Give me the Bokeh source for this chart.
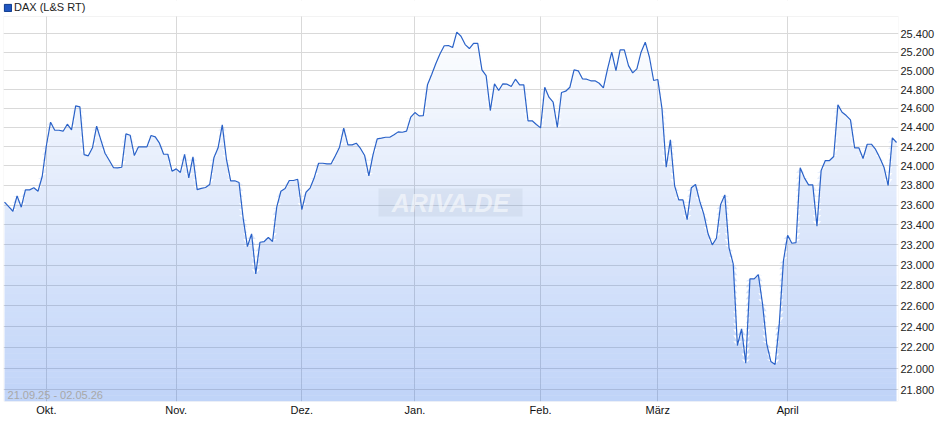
import numpy as np
from bokeh.plotting import figure
from bokeh.models import Range1d, FixedTicker, Label, BoxAnnotation, Legend, LegendItem
from bokeh.embed import file_html
from bokeh.resources import INLINE

# ---- data (daily closes, L&S, 21.09.25 - 02.05.26) ----
series_name = "DAX (L&S RT)"
period_text = "21.09.25 - 02.05.26"
dax = [
    23629, 23583, 23537, 23693, 23578, 23754, 23754, 23775, 23740, 23891,
    24211, 24454, 24370, 24370, 24360, 24433, 24374, 24627, 24616, 24117,
    24104, 24187, 24412, 24270, 24131, 24058, 23983, 23980, 23986, 24332,
    24318, 24107, 24197, 24197, 24197, 24315, 24301, 24235, 24120, 24120,
    23945, 23969, 23932, 24120, 23877, 24093, 23757, 23770, 23778, 23809,
    24083, 24187, 24427, 24066, 23847, 23847, 23829, 23463, 23183, 23310,
    22913, 23226, 23233, 23273, 23233, 23578, 23740, 23768, 23850, 23850,
    23863, 23554, 23730, 23775, 23884, 24027, 24027, 24021, 24021, 24104,
    24193, 24391, 24218, 24218, 24235, 24180, 24107, 23898, 24117, 24280,
    24287, 24297, 24297, 24322, 24353, 24349, 24360, 24507, 24556, 24521,
    24524, 24850, 24960, 25078, 25183, 25270, 25273, 25251, 25418, 25374,
    25283, 25240, 25297, 25297, 25010, 24949, 24577, 24861, 24789, 24861,
    24857, 24832, 24910, 24850, 24850, 24469, 24469, 24430, 24395, 24824,
    24718, 24665, 24399, 24768, 24782, 24824, 25010, 25000, 24914, 24910,
    24893, 24893, 24867, 24818, 25021, 25201, 25003, 25226, 25226, 25056,
    24978, 25021, 25201, 25309, 25146, 24896, 24907, 24595, 23986, 24270,
    23798, 23653, 23653, 23453, 23775, 23809, 23639, 23504, 23310, 23200,
    23266, 23605, 23703, 23170, 23011, 22219, 22378, 22050, 22864, 22864,
    22906, 22620, 22235, 22066, 22038, 22426, 23044, 23296, 23216, 23223,
    23980, 23877, 23805, 23805, 23386, 23952, 24055, 24055, 24097, 24637,
    24559, 24524, 24479, 24187, 24187, 24076, 24224, 24224, 24170, 24083,
    23986, 23798, 24291, 24242,
]
month_labels = ["Okt.", "Nov.", "Dez.", "Jan.", "Feb.", "März", "April"]
month_index = [10, 41, 71, 98, 128, 156, 187]   # trading-day index of month start
y_ticks = list(range(21800, 25401, 200))
y_labels = [f"{v // 1000}.{v % 1000:03d}" for v in y_ticks]

# ---- layout constants ----
Y_LO, Y_CHART_TOP, Y_HI = 21691, 25589, 25766   # Y_HI leaves a header strip for the key
X_LO, X_HI = -0.24, 213.47
FONT = "Liberation Sans"
LINE_COLOR = "#2a62c8"
FILL_RGB = (30, 100, 230)
FILL_MAX_ALPHA = 0.28
BORDER = "#d4d4d4"

x = np.arange(len(dax))
ys = np.array(dax, dtype=float)

p = figure(
    width=940, height=420,
    x_range=Range1d(X_LO, X_HI), y_range=Range1d(Y_LO, Y_HI),
    y_axis_type="log", y_axis_location="right",
    output_backend="svg", toolbar_location=None,
    min_border_left=3, min_border_right=42, min_border_top=0, min_border_bottom=19,
    background_fill_color="white", border_fill_color="white",
    outline_line_color=None,
)

# axes
p.xaxis.ticker = FixedTicker(ticks=month_index)
p.xaxis.major_label_overrides = {i: s for i, s in zip(month_index, month_labels)}
p.xaxis.axis_line_color = None
p.xaxis.major_tick_line_color = None
p.xaxis.minor_tick_line_color = None
p.xaxis.major_tick_out = 0
p.xaxis.major_tick_in = 0
p.xaxis.minor_tick_out = 0
p.xaxis.major_label_standoff = 2
p.xaxis.major_label_text_font = FONT
p.xaxis.major_label_text_font_size = "11px"
p.xaxis.major_label_text_color = "#111111"

p.yaxis.ticker = FixedTicker(ticks=y_ticks)
p.yaxis.major_label_overrides = {v: s for v, s in zip(y_ticks, y_labels)}
p.yaxis.axis_line_color = None
p.yaxis.major_tick_line_color = None
p.yaxis.minor_tick_line_color = None
p.yaxis.major_tick_out = 0
p.yaxis.major_tick_in = 0
p.yaxis.minor_tick_out = 0
p.yaxis.major_label_standoff = 2
p.yaxis.major_label_text_font = FONT
p.yaxis.major_label_text_font_size = "11px"
p.yaxis.major_label_text_color = "#222222"

p.xgrid.ticker = FixedTicker(ticks=month_index)
p.ygrid.ticker = FixedTicker(ticks=y_ticks)
p.grid.grid_line_color = "#d9d9d9"
p.grid.grid_line_width = 1

# white header strip hides the grid above the chart area
p.add_layout(BoxAnnotation(bottom=Y_CHART_TOP, fill_color="white", fill_alpha=1,
                           line_alpha=0, level="underlay"))

# vertical gradient under the line: adjacent (non-overlapping) translucent bands
N = 64
edges = np.geomspace(Y_LO, Y_CHART_TOP, N + 1)
for k in range(N):
    lo, hi = edges[k], edges[k + 1]
    alpha = FILL_MAX_ALPHA * (1 - (k + 0.5) / N)
    p.varea(x=x, y1=lo, y2=np.clip(ys, lo, hi),
            fill_color=FILL_RGB, fill_alpha=alpha)

# watermark
p.add_layout(BoxAnnotation(left=89.3, right=123.7, bottom=23484, top=23768,
                           fill_color="#8c9ab0", fill_alpha=0.12, line_alpha=0))
p.add_layout(Label(x=106.5, y=23622, text="ARIVA.DE", text_align="center",
                   text_baseline="middle", text_font_size="25px",
                   text_font_style="bold italic", text_font=FONT,
                   text_color="white", text_alpha=0.55))

p.line(x, ys, line_color=LINE_COLOR, line_width=1.2)

# chart border
p.add_layout(BoxAnnotation(left=X_LO, right=X_HI, bottom=Y_LO, top=Y_CHART_TOP,
                           fill_alpha=0, line_color=BORDER, line_width=1))

# period label
p.add_layout(Label(x=0.72, y=21747, text=period_text, text_font=FONT,
                   text_font_size="11px", text_color="#a8a8a8",
                   text_baseline="middle", text_align="left"))

# key (colour square + series name) in the header strip
key = p.quad(left=[X_LO - 60], right=[X_LO - 50], bottom=[Y_LO], top=[Y_LO],
             fill_color="#1f55c0", line_color="#0d3a8c")
legend = Legend(items=[LegendItem(label=series_name, renderers=[key])],
                location="top_left", orientation="horizontal",
                margin=0, padding=0, spacing=0, glyph_width=9, glyph_height=9,
                label_standoff=2, label_height=14, label_text_font=FONT,
                label_text_font_size="11px", label_text_color="#222222",
                border_line_alpha=0, background_fill_alpha=0)
p.add_layout(legend, "center")

open("out.html", "w").write(file_html(p, INLINE))
